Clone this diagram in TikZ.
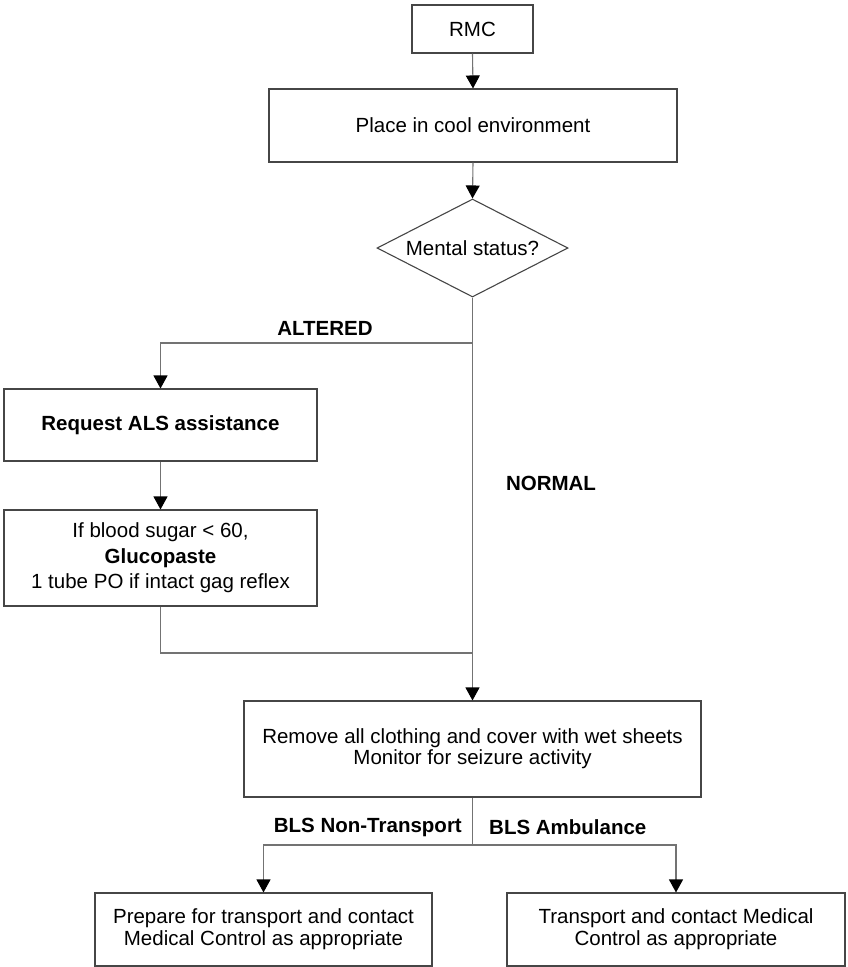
\documentclass[tikz,border=0pt]{standalone}
\usepackage{fontspec}
\setmainfont{Liberation Sans}
\usetikzlibrary{shapes.geometric,arrows.meta}
\definecolor{linegray}{RGB}{115,115,115}
\definecolor{boxgray}{RGB}{70,70,70}
\begin{document}
\begin{tikzpicture}[x=1pt,y=-1pt,
  font=\fontsize{20.5}{24}\selectfont,
  box/.style={draw=boxgray,line width=1.1pt,rectangle,inner sep=0pt,align=center,anchor=center},
  conn/.style={draw=linegray,line width=1.1pt},
  arr/.style={conn,-{Triangle[length=13pt,width=14pt,fill=black,color=black]}},
  lbl/.style={font=\fontsize{20.5}{24}\selectfont\bfseries,inner sep=0pt}]
\useasboundingbox (0,0) rectangle (847,967);
\node[box,minimum width=121pt,minimum height=48pt] (rmc) at (472.5,29) {RMC};
\node[box,minimum width=408pt,minimum height=73pt] (place) at (473,125.5) {Place in cool environment};
\node[box,diamond,aspect=1.95,minimum width=191pt,minimum height=98pt] (dia) at (472.5,248) {Mental status?};
\node[box,minimum width=313pt,minimum height=72pt] (req) at (160.5,425) {\bfseries Request ALS assistance};
\node[box,minimum width=313pt,minimum height=96pt,font=\fontsize{20.5}{25.5}\selectfont] (glu) at (160.5,558) {If blood sugar < 60,\\\bfseries Glucopaste\\1 tube PO if intact gag reflex};
\node[box,minimum width=457pt,minimum height=96pt,font=\fontsize{20.5}{21}\selectfont] (rem) at (472.5,749) {Remove all clothing and cover with wet sheets\\Monitor for seizure activity};
\node[box,minimum width=337pt,minimum height=73pt,font=\fontsize{20.5}{22}\selectfont] (prep) at (263.5,929.5) {Prepare for transport and contact\\Medical Control as appropriate};
\node[box,minimum width=338pt,minimum height=73pt,font=\fontsize{20.5}{22}\selectfont] (trans) at (676,929.5) {Transport and contact Medical\\Control as appropriate};
\coordinate (altJ) at (472.5,343);
\coordinate (joinJ) at (472.5,653);
\coordinate (splitJ) at (472.5,845);
\node[lbl] (altered) at (325,328) {ALTERED};
\node[lbl] (normal) at (551,483) {NORMAL};
\node[lbl,anchor=east] (nontr) at (462,827) {BLS Non-Transport};
\node[lbl,anchor=west] (amb) at (489,827) {BLS Ambulance};
\draw[arr] (rmc.south) -- (place.north);
\draw[arr] (place.south) -- (dia.north);
\draw[arr] (dia.south) -- (rem.north);
\draw[arr] (altJ) -| (req.north);
\draw[arr] (req.south) -- (glu.north);
\draw[conn] (glu.south) |- (joinJ);
\draw[conn] (rem.south) -- (splitJ);
\draw[arr] (splitJ) -| (prep.north);
\draw[arr] (splitJ) -| (trans.north);
\end{tikzpicture}
\end{document}
